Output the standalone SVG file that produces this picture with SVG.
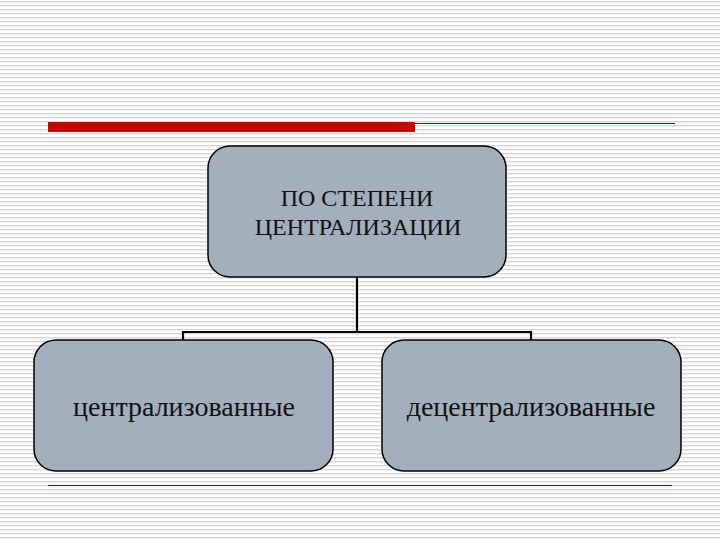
<svg xmlns="http://www.w3.org/2000/svg" width="720" height="540" viewBox="0 0 720 540">
  <defs>
    <pattern id="stripes" x="0" y="0" width="8" height="4" patternUnits="userSpaceOnUse">
      <rect x="0" y="0" width="8" height="4" fill="#ffffff"/>
      <rect x="0" y="1" width="8" height="1.4" fill="#d6d6d6"/>
    </pattern>
  </defs>
  <style>
    .node rect { fill: #a3afbd; stroke: #000000; stroke-width: 1.5; }
    .node text { fill: #111111; text-anchor: middle; }
    .conn line { stroke: #000000; stroke-width: 2.2; }
  </style>
  <rect x="0" y="0" width="720" height="540" fill="url(#stripes)"/>
  <g id="decor">
    <rect x="48" y="122" width="367" height="10" fill="#cc0000"/>
    <line x1="415" y1="123.5" x2="675" y2="123.5" stroke="#7a0000" stroke-width="1.2"/>
    <line x1="48" y1="485.5" x2="672" y2="485.5" stroke="#8b0000" stroke-width="1.2"/>
  </g>
  <g id="connectors" class="conn">
    <line x1="357" y1="277" x2="357" y2="332"/>
    <line x1="182" y1="332" x2="532" y2="332"/>
    <line x1="183" y1="331" x2="183" y2="340"/>
    <line x1="531" y1="331" x2="531" y2="340"/>
  </g>
  <g id="node-root" class="node">
    <rect x="208" y="146" width="298" height="131" rx="22" ry="22"/>
    <text x="357" y="206" font-size="24" font-family="Liberation Serif">ПО СТЕПЕНИ</text>
    <text x="358" y="235" font-size="24" font-family="Liberation Serif">ЦЕНТРАЛИЗАЦИИ</text>
  </g>
  <g id="node-centralized" class="node">
    <rect x="34" y="340" width="299" height="131" rx="22" ry="22"/>
    <text x="184" y="416" font-size="28" font-family="Liberation Serif">централизованные</text>
  </g>
  <g id="node-decentralized" class="node">
    <rect x="382" y="340" width="299" height="131" rx="22" ry="22"/>
    <text x="531" y="416" font-size="28" font-family="Liberation Serif">децентрализованные</text>
  </g>
</svg>
